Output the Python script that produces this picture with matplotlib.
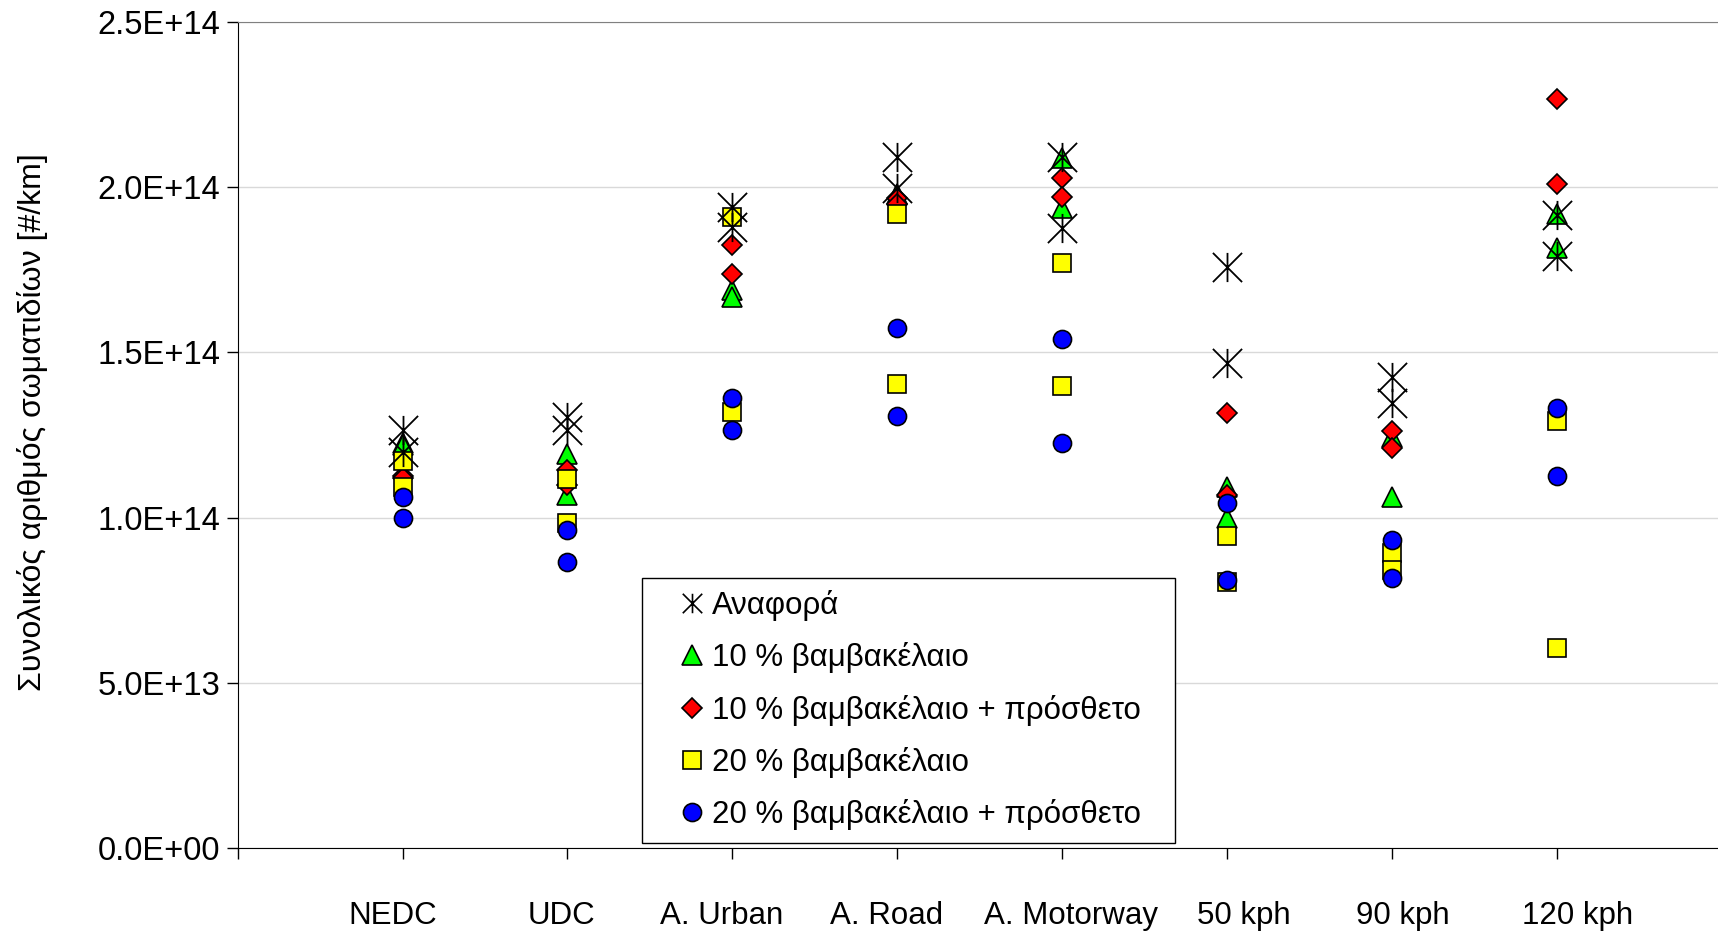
import numpy as np
import matplotlib.pyplot as plt
from matplotlib.path import Path
from matplotlib.lines import Line2D
from matplotlib.transforms import ScaledTranslation
from matplotlib.ticker import FuncFormatter, MultipleLocator

plt.rcParams['font.family'] = ['Liberation Sans', 'DejaVu Sans']

categories = ['NEDC', 'UDC', 'A. Urban', 'A. Road', 'A. Motorway', '50 kph', '90 kph', '120 kph']

# two repetitions per cycle, values in 1E14 #/km
ref_1 = [1.265, 1.305, 1.941, 2.092, 2.092, 1.759, 1.426, 1.916]
ref_2 = [1.200, 1.265, 1.880, 1.996, 1.875, 1.469, 1.346, 1.792]
cot10_1 = [1.225, 1.192, 1.689, 1.976, 2.087, 1.094, 1.245, 1.920]
cot10_2 = [1.220, 1.068, 1.668, 1.980, 1.936, 0.998, 1.063, 1.815]
cot10add_1 = [1.126, 1.144, 1.825, 1.966, 2.029, 1.317, 1.263, 2.267]
cot10add_2 = [1.120, 1.099, 1.736, 1.950, 1.971, 1.068, 1.210, 2.009]
cot20_1 = [1.171, 1.116, 1.909, 1.919, 1.769, 0.945, 0.892, 1.293]
cot20_2 = [1.094, 0.984, 1.320, 1.404, 1.398, 0.806, 0.841, 0.604]
cot20add_1 = [1.061, 0.962, 1.361, 1.575, 1.542, 1.043, 0.932, 1.332]
cot20add_2 = [1.000, 0.867, 1.265, 1.308, 1.225, 0.811, 0.818, 1.126]

labels = ['Αναφορά', '10 % βαμβακέλαιο', '10 % βαμβακέλαιο + πρόσθετο',
          '20 % βαμβακέλαιο', '20 % βαμβακέλαιο + πρόσθετο']

# excel style star: X plus vertical bar
star = Path([(-1, -1), (1, 1), (-1, 1), (1, -1), (0, -1), (0, 1)],
            [Path.MOVETO, Path.LINETO] * 3)

x = np.arange(1, len(categories) + 1)
xx = np.concatenate([x, x])

fig = plt.figure(figsize=(17.18, 9.36), dpi=100)
ax = fig.add_axes([0.1384, 0.0939, 1.002 - 0.1384, 0.9766 - 0.0939])

def col(a, b):
    return np.concatenate([a, b]) * 1e14

h_green, = ax.plot(xx, col(cot10_1, cot10_2), ls='none', marker='^', ms=14,
                   mfc='#00ff00', mec='black', mew=1.2, zorder=3, label=labels[1])
h_red, = ax.plot(xx, col(cot10add_1, cot10add_2), ls='none', marker='D', ms=10.5,
                 mfc='#ff0000', mec='black', mew=1.2, zorder=4, label=labels[2])
h_yel, = ax.plot(xx, col(cot20_1, cot20_2), ls='none', marker='s', ms=12.5,
                 mfc='#ffff00', mec='black', mew=1.2, zorder=5, label=labels[3])
h_blue, = ax.plot(xx, col(cot20add_1, cot20add_2), ls='none', marker='o', ms=13,
                  mfc='#0000ff', mec='black', mew=1.2, zorder=6, label=labels[4])
ax.plot(xx, col(ref_1, ref_2), ls='none', marker=star, ms=21,
        mfc='none', mec='black', mew=1.3, zorder=7)
# smaller star in the legend, like the original
h_ref = Line2D([], [], ls='none', marker=star, ms=14, mfc='none', mec='black',
               mew=1.2, label=labels[0])

ax.set_xlim(0, 9)
ax.set_ylim(0, 2.5e14)
ax.yaxis.set_major_locator(MultipleLocator(0.5e14))
ax.yaxis.set_major_formatter(FuncFormatter(lambda v, p: f'{v:.1E}'))
ax.set_xticks(np.arange(0, 10))
ax.set_xticklabels([''] + categories + [''])
ax.grid(axis='y', color='#d9d9d9', lw=1)
ax.set_axisbelow(True)

ax.tick_params(axis='x', length=8, width=1, pad=30, labelsize=22.5)
ax.tick_params(axis='y', length=8, width=1, pad=4.6, labelsize=23.5)
for s in ['left', 'bottom']:
    ax.spines[s].set_color('black')
ax.spines['top'].set_color('#808080')
ax.spines['right'].set_color('#808080')

# the original labels sit a little off their ticks
label_shift = [0, -10, -6, -11, -11, 9, 17, 11, 21, 0]  # pixels
for lab, dx in zip(ax.get_xticklabels(), label_shift):
    lab.set_transform(lab.get_transform() + ScaledTranslation(dx / 100, 0, fig.dpi_scale_trans))

ax.set_ylabel('Συνολικός αριθμός σωματιδίων [#/km]', fontsize=23)
ax.yaxis.set_label_coords(-0.128, 0.516)

leg = ax.legend(handles=[h_ref, h_green, h_red, h_yel, h_blue],
                loc='lower left', bbox_to_anchor=(0.2723, 0.0067, 0.3595, 0.32),
                mode='expand', borderaxespad=0,
                fontsize=22.5, markerscale=1.0, handlelength=2.4, handletextpad=-0.55,
                borderpad=0.4, labelspacing=0.68, fancybox=False, framealpha=1,
                edgecolor='black')
leg.get_frame().set_linewidth(1)

fig.savefig('out.png', dpi=100)
